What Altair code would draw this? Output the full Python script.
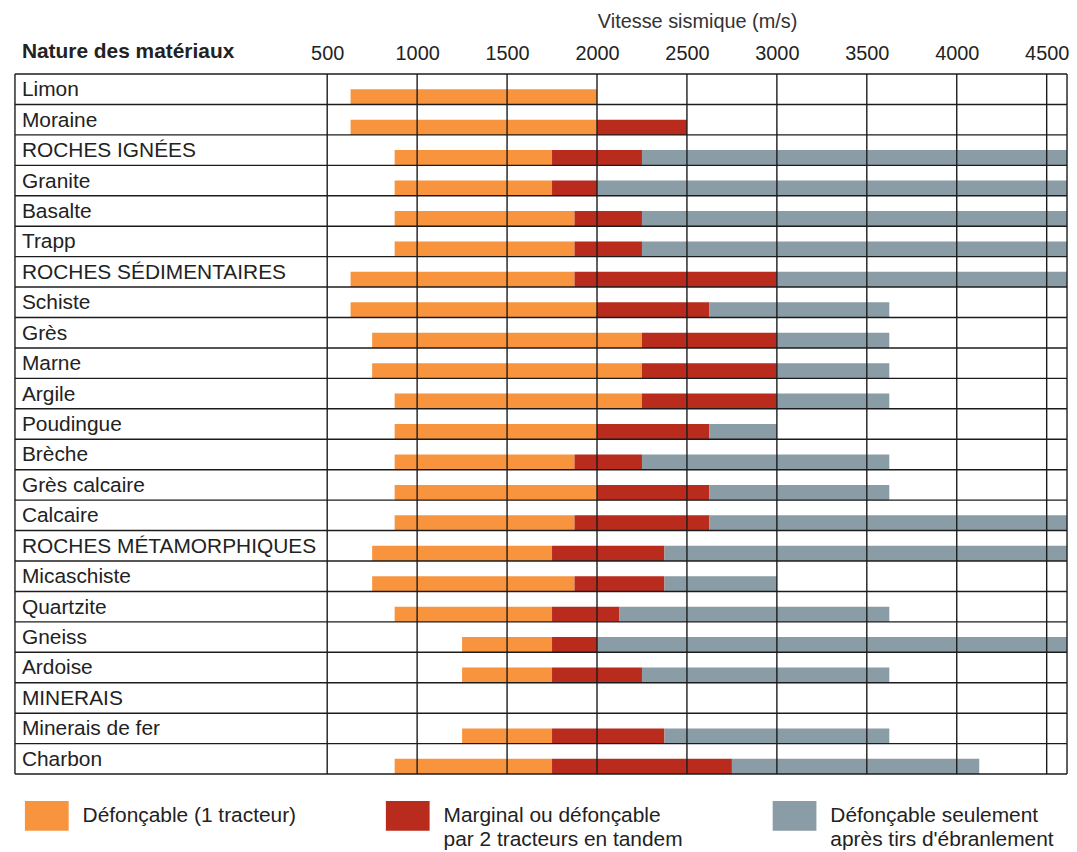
import json
import altair as alt
import pandas as pd

# ---------------- data ----------------
materials = [
    "Limon", "Moraine", "ROCHES IGNÉES", "Granite", "Basalte", "Trapp",
    "ROCHES SÉDIMENTAIRES", "Schiste", "Grès", "Marne", "Argile", "Poudingue",
    "Brèche", "Grès calcaire", "Calcaire", "ROCHES MÉTAMORPHIQUES", "Micaschiste",
    "Quartzite", "Gneiss", "Ardoise", "MINERAIS", "Minerais de fer", "Charbon",
]
start_v = [630, 630, 875, 875, 875, 875, 630, 630, 750, 750, 875, 875,
           875, 875, 875, 750, 750, 875, 1250, 1250, None, 1250, 875]
orange_end = [2000, 2000, 1750, 1750, 1875, 1875, 1875, 2000, 2250, 2250, 2250, 2000,
              1875, 2000, 1875, 1750, 1875, 1750, 1750, 1750, None, 1750, 1750]
red_end = [None, 2500, 2250, 2000, 2250, 2250, 3000, 2625, 3000, 3000, 3000, 2625,
           2250, 2625, 2625, 2375, 2375, 2125, 2000, 2250, None, 2375, 2750]
gray_end = [None, None, 4613, 4613, 4613, 4613, 4613, 3625, 3625, 3625, 3625, 3000,
            3625, 3625, 4613, 4613, 3000, 3625, 4613, 3625, None, 3625, 4125]

legend_lines = [
    ["Défonçable (1 tracteur)"],
    ["Marginal ou défonçable", "par 2 tracteurs en tandem"],
    ["Défonçable seulement", "après tirs d'ébranlement"],
]
categories = [" ".join(l) for l in legend_lines]
colors = ["#F7943D", "#B82B1D", "#8A9CA5"]
tick_values = [500, 1000, 1500, 2000, 2500, 3000, 3500, 4000, 4500]
x_domain = [500, 4613]
header_text = "Nature des matériaux"
axis_title = "Vitesse sismique (m/s)"

# ---------------- layout constants (styles) ----------------
W, H = 744, 704
LABEL_COL = 314          # width of the label column, left of plot
LINE = "#1c1c1c"
LW = 1.4
FONT = "Liberation Sans"
n_rows = len(materials)

# ---------------- tables ----------------
recs = []
for i, m in enumerate(materials):
    b = [start_v[i], orange_end[i], red_end[i], gray_end[i]]
    for k in range(3):
        a, e = b[k], b[k + 1]
        if a is not None and e is not None and e > a:
            recs.append({"mat": m, "y0": i + 0.5, "y1": i + 1, "x0": a, "x1": e,
                         "cat": categories[k]})
bars_df = pd.DataFrame(recs)
labels_df = pd.DataFrame({"mat": materials, "yc": [i + 0.5 for i in range(n_rows)]})
hlines_df = pd.DataFrame({"b": list(range(n_rows + 1))})
vlines_df = pd.DataFrame({"v": tick_values})
one_df = pd.DataFrame({"t": [header_text]})

xscale = alt.Scale(domain=x_domain, nice=False, zero=False)
yscale = alt.Scale(domain=[0, n_rows], reverse=True, nice=False, zero=False)

# legend label expression (two-line labels, first line centred on swatch)
parts = []
for cat, lines in zip(categories, legend_lines):
    arr = lines + ([""] if len(lines) == 1 else [])
    parts.append((cat, "[" + ", ".join(json.dumps(s, ensure_ascii=False) for s in arr) + "]"))
label_expr = ""
for cat, arr in parts[:-1]:
    label_expr += f"datum.label == {json.dumps(cat, ensure_ascii=False)} ? {arr} : "
label_expr += parts[-1][1]

x_axis = alt.Axis(orient="top", values=tick_values, format="d", title=axis_title,
                  grid=False, domain=False, ticks=False, labelFlush=False,
                  labelFontSize=20, labelPadding=11, labelColor="#222",
                  labelFont=FONT, titleFont=FONT,
                  titleFontSize=20, titleFontWeight="normal", titleColor="#333",
                  titlePadding=12)

bars = alt.Chart(bars_df).mark_bar(strokeWidth=0).encode(
    x=alt.X("x0:Q", scale=xscale, axis=x_axis, title=axis_title),
    x2="x1:Q",
    y=alt.Y("y0:Q", scale=yscale, axis=None),
    y2="y1:Q",
    color=alt.Color("cat:N", scale=alt.Scale(domain=categories, range=colors),
                    legend=alt.Legend(orient="none", legendX=-304, legendY=724,
                                      direction="horizontal", columns=3, columnPadding=90,
                                      title=None, symbolType="M-1,-0.68H1V0.68H-1Z",
                                      symbolSize=1936, symbolStrokeWidth=0,
                                      labelFontSize=21, labelFont=FONT, labelColor="#222",
                                      labelOffset=14, labelLimit=500, labelExpr=label_expr,
                                      labelBaseline="middle", padding=0)),
)

vlines = alt.Chart(vlines_df).mark_rule(color=LINE, strokeWidth=LW).encode(
    x=alt.X("v:Q", scale=xscale, axis=x_axis, title=axis_title),
    y=alt.value(0), y2=alt.value(H),
)

hlines = alt.Chart(hlines_df).mark_rule(color=LINE, strokeWidth=LW).encode(
    y=alt.Y("b:Q", scale=yscale, axis=None),
    x=alt.value(-LABEL_COL), x2=alt.value(W),
)

left_border = alt.Chart(one_df).mark_rule(color=LINE, strokeWidth=LW).encode(
    x=alt.value(-LABEL_COL), y=alt.value(0), y2=alt.value(H))
right_border = alt.Chart(one_df).mark_rule(color=LINE, strokeWidth=LW).encode(
    x=alt.value(W), y=alt.value(0), y2=alt.value(H))

labels = alt.Chart(labels_df).mark_text(
    align="left", baseline="middle", fontSize=21, font=FONT, color="#222", dy=1
).encode(
    x=alt.value(-LABEL_COL + 7),
    y=alt.Y("yc:Q", scale=yscale, axis=None),
    text="mat:N",
)

header = alt.Chart(one_df).mark_text(
    align="left", baseline="middle", fontSize=21, font=FONT, fontWeight="bold", color="#222"
).encode(x=alt.value(-LABEL_COL + 7), y=alt.value(-22), text="t:N")

chart = alt.layer(bars, vlines, hlines, left_border, right_border, labels, header).properties(
    width=W, height=H,
    autosize=alt.AutoSizeParams(type="none"),
    padding={"left": 321, "top": 64, "right": 2, "bottom": 76},
).configure(
    font=FONT,
    style={"guide-label": {"lineHeight": 24}},
).configure_view(stroke=None)

chart.save("out.html", embed_options={"renderer": "svg", "actions": False})
